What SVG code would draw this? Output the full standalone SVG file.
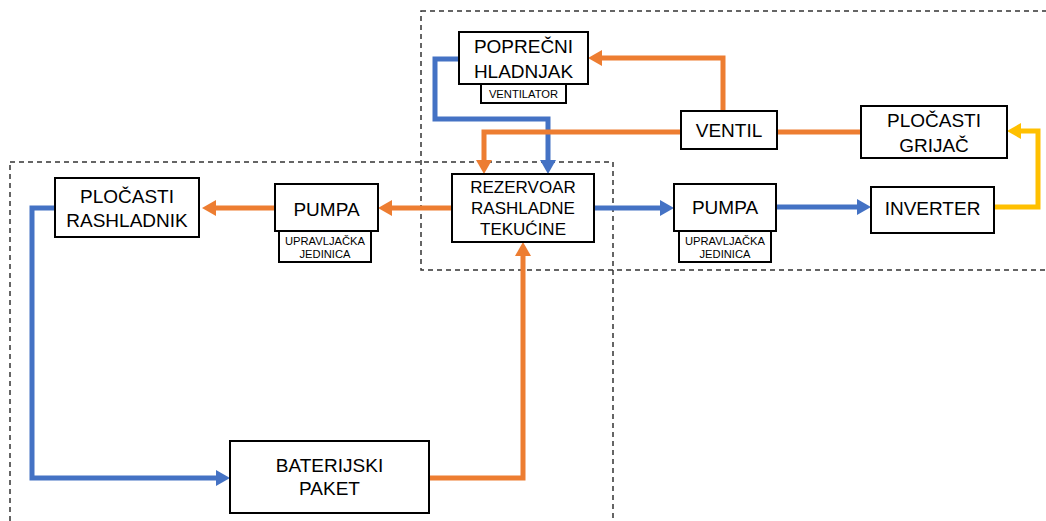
<svg xmlns="http://www.w3.org/2000/svg" width="1046" height="521" viewBox="0 0 1046 521">
<style>
.box{fill:#fff;stroke:#000;stroke-width:2}
.t{font-family:"Liberation Sans",Arial,sans-serif;font-size:19px;fill:#000;text-anchor:middle}
.tm{font-family:"Liberation Sans",Arial,sans-serif;font-size:17px;fill:#000;text-anchor:middle}
.ts{font-family:"Liberation Sans",Arial,sans-serif;font-size:11.2px;fill:#000;text-anchor:middle}
.dash{fill:none;stroke:#333;stroke-width:1.5;stroke-dasharray:5 4}
.c{fill:none;stroke-width:5;stroke-linejoin:miter}
.b{stroke:#4472C4}
.o{stroke:#ED7D31}
.y{stroke:#FFC000}
</style>
<defs>
<marker id="ab" markerUnits="userSpaceOnUse" markerWidth="15" markerHeight="17" refX="0" refY="8" orient="auto" overflow="visible"><path d="M0,0 L14,8 L0,16 z" fill="#4472C4"/></marker>
<marker id="ao" markerUnits="userSpaceOnUse" markerWidth="15" markerHeight="17" refX="0" refY="8" orient="auto" overflow="visible"><path d="M0,0 L14,8 L0,16 z" fill="#ED7D31"/></marker>
<marker id="ay" markerUnits="userSpaceOnUse" markerWidth="15" markerHeight="17" refX="0" refY="8" orient="auto" overflow="visible"><path d="M0,0 L14,8 L0,16 z" fill="#FFC000"/></marker>
</defs>
<g id="regions">
<rect class="dash" x="421" y="11" width="700" height="259"/>
<rect class="dash" x="10" y="162" width="603" height="400"/>
</g>
<g id="connectors">
<path class="c b" d="M459,59 H435 V119 H548 V160" marker-end="url(#ab)"/>
<path class="c o" d="M723,111 V58 H602" marker-end="url(#ao)"/>
<path class="c o" d="M681,132 H484 V160" marker-end="url(#ao)"/>
<path class="c o" d="M777,132 H861"/>
<path class="c y" d="M994,207 H1038 V131 H1021" marker-end="url(#ay)"/>
<path class="c b" d="M594,208 H660" marker-end="url(#ab)"/>
<path class="c b" d="M776,207 H857" marker-end="url(#ab)"/>
<path class="c o" d="M452,208 H392" marker-end="url(#ao)"/>
<path class="c o" d="M275,208 H216" marker-end="url(#ao)"/>
<path class="c b" d="M55,208 H32 V478 H216" marker-end="url(#ab)"/>
<path class="c o" d="M429,478 H523 V256" marker-end="url(#ao)"/>
</g>
<g id="poprecni">
<rect class="box" x="459" y="32" width="129" height="52"/>
<text class="t" x="523.5" y="53">POPREČNI</text>
<text class="t" x="523.5" y="78">HLADNJAK</text>
</g>
<g id="ventilator">
<rect class="box" x="481" y="84" width="85" height="19"/>
<text class="ts" x="523.5" y="97.5">VENTILATOR</text>
</g>
<g id="ventil">
<rect class="box" x="681" y="111" width="96" height="38"/>
<text class="t" x="729" y="137">VENTIL</text>
</g>
<g id="grijac">
<rect class="box" x="861" y="106" width="146" height="52"/>
<text class="t" x="934" y="127">PLOČASTI</text>
<text class="t" x="934" y="152">GRIJAČ</text>
</g>
<g id="rezervoar">
<rect class="box" x="452" y="174" width="142" height="68"/>
<text class="tm" x="523" y="193">REZERVOAR</text>
<text class="tm" x="523" y="214">RASHLADNE</text>
<text class="tm" x="523" y="235">TEKUĆINE</text>
</g>
<g id="pumpa2">
<rect class="box" x="674" y="184" width="102" height="47"/>
<text class="t" x="725" y="214">PUMPA</text>
</g>
<g id="upravljacka2">
<rect class="box" x="679" y="231" width="92" height="31"/>
<text class="ts" x="725" y="245">UPRAVLJAČKA</text>
<text class="ts" x="725" y="258">JEDINICA</text>
</g>
<g id="inverter">
<rect class="box" x="871" y="187" width="123" height="46"/>
<text class="t" x="932.5" y="215">INVERTER</text>
</g>
<g id="rashladnik">
<rect class="box" x="55" y="178" width="144" height="59"/>
<text class="t" x="127" y="203">PLOČASTI</text>
<text class="t" x="127" y="227">RASHLADNIK</text>
</g>
<g id="pumpa1">
<rect class="box" x="275" y="184" width="103" height="47"/>
<text class="t" x="326.5" y="216">PUMPA</text>
</g>
<g id="upravljacka1">
<rect class="box" x="279" y="231" width="92" height="31"/>
<text class="ts" x="325" y="245">UPRAVLJAČKA</text>
<text class="ts" x="325" y="258">JEDINICA</text>
</g>
<g id="baterijski">
<rect class="box" x="230" y="441" width="199" height="72"/>
<text class="t" x="329.5" y="472">BATERIJSKI</text>
<text class="t" x="329.5" y="495">PAKET</text>
</g>
</svg>
